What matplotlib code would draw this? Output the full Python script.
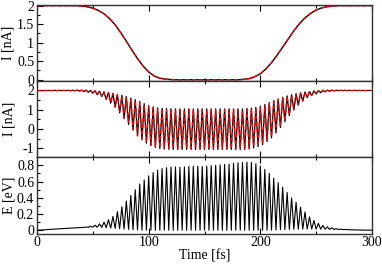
import numpy as np
import matplotlib
matplotlib.use("Agg")
import matplotlib.pyplot as plt
from matplotlib.ticker import MultipleLocator, FixedLocator

plt.rcParams['font.family'] = ['Liberation Serif', 'DejaVu Serif']
plt.rcParams['font.size'] = 10

# ---------------- data ----------------
# top panel: time-averaged current (every 5 fs, 0..300)
t_bar = np.arange(0, 301, 5)
Ibar_black = [2.00, 2.00, 2.00, 2.00, 2.00, 2.00, 2.00, 2.00, 1.99, 1.97,
              1.93, 1.87, 1.78, 1.65, 1.48, 1.27, 1.04, 0.80, 0.57, 0.37,
              0.21, 0.10, 0.04, 0.015, 0.005, 0.0, 0.0, 0.0, 0.0, 0.0,
              0.0, 0.0, 0.0, 0.0, 0.0, 0.0, 0.0, 0.01, 0.03, 0.08,
              0.16, 0.29, 0.46, 0.66, 0.88, 1.10, 1.32, 1.51, 1.67, 1.79,
              1.88, 1.94, 1.97, 1.99, 2.00, 2.00, 2.00, 2.00, 2.00, 2.00, 2.00]
Ibar_red = [2.00, 2.00, 2.00, 2.00, 2.00, 2.00, 2.00, 2.00, 1.99, 1.97,
            1.93, 1.87, 1.78, 1.65, 1.48, 1.27, 1.04, 0.80, 0.57, 0.37,
            0.21, 0.10, 0.04, 0.015, 0.005, 0.0, 0.0, 0.0, 0.0, 0.0,
            0.0, 0.0, 0.0, 0.0, 0.0, 0.0, 0.0, 0.01, 0.03, 0.08,
            0.16, 0.29, 0.46, 0.66, 0.88, 1.10, 1.32, 1.51, 1.67, 1.79,
            1.88, 1.94, 1.97, 1.99, 2.00, 2.00, 2.00, 2.00, 2.00, 2.00, 2.00]

# oscillating signals: extrema times (maxima at 0,4,8..., minima at 2,6,10...)
t_max = np.arange(0, 300, 4.0)
t_min = t_max + 2.0

# middle panel: current maxima / minima (black)
I_hi_black = [2.0, 2.0, 2.0, 2.0, 2.005, 2.005, 2.006, 2.008, 2.01, 2.02,
              2.02, 2.017, 2.006, 1.99, 1.967, 1.93, 1.906, 1.858, 1.806, 1.754,
              1.69, 1.608, 1.522, 1.43, 1.318, 1.23, 1.152, 1.104, 1.08, 1.063,
              1.055, 1.05, 1.05, 1.05, 1.05, 1.05, 1.05, 1.05, 1.05, 1.05,
              1.05, 1.05, 1.05, 1.05, 1.05, 1.05, 1.05, 1.07, 1.09, 1.125,
              1.19, 1.27, 1.37, 1.475, 1.565, 1.65, 1.72, 1.78, 1.83, 1.88,
              1.92, 1.95, 1.98, 2.0, 2.01, 2.02, 2.02, 2.015, 2.01, 2.008,
              2.006, 2.005, 2.003, 2.002, 2.001]
I_lo_black = [1.995, 1.995, 1.995, 1.995, 1.995, 1.994, 1.992, 1.99, 1.985, 1.971,
              1.945, 1.91, 1.86, 1.78, 1.686, 1.538, 1.346, 1.13, 0.842, 0.542,
              0.244, -0.054, -0.35, -0.55, -0.726, -0.859, -0.947, -1.005, -1.03, -1.041,
              -1.047, -1.05, -1.05, -1.05, -1.05, -1.05, -1.05, -1.05, -1.05, -1.05,
              -1.05, -1.05, -1.05, -1.05, -1.05, -1.05, -1.05, -1.02, -0.976, -0.908,
              -0.81, -0.642, -0.45, -0.198, 0.088, 0.39, 0.694, 0.986, 1.238, 1.446,
              1.63, 1.737, 1.821, 1.886, 1.927, 1.96, 1.98, 1.99, 1.992, 1.994,
              1.995, 1.995, 1.996, 1.997, 1.998]
# middle panel: current maxima / minima (red)
I_hi_red = [2.0, 2.0, 2.0, 2.0, 2.004, 2.004, 2.005, 2.007, 2.009, 2.018,
            2.018, 2.014, 2.003, 1.985, 1.96, 1.92, 1.89, 1.84, 1.78, 1.72,
            1.65, 1.56, 1.47, 1.38, 1.26, 1.17, 1.10, 1.05, 1.03, 1.01,
            1.0, 1.0, 1.0, 1.0, 1.0, 1.0, 1.0, 1.0, 1.0, 1.0,
            1.0, 1.0, 1.0, 1.0, 1.0, 1.0, 1.0, 1.02, 1.04, 1.075,
            1.14, 1.22, 1.32, 1.43, 1.52, 1.61, 1.69, 1.75, 1.81, 1.86,
            1.90, 1.94, 1.97, 1.99, 2.005, 2.015, 2.015, 2.012, 2.008, 2.006,
            2.005, 2.004, 2.003, 2.002, 2.001]
I_lo_red = [1.996, 1.996, 1.996, 1.996, 1.996, 1.995, 1.993, 1.991, 1.987, 1.974,
            1.95, 1.915, 1.87, 1.79, 1.70, 1.56, 1.38, 1.17, 0.89, 0.60,
            0.31, 0.01, -0.29, -0.49, -0.67, -0.80, -0.89, -0.95, -0.98, -0.99,
            -1.0, -1.0, -1.0, -1.0, -1.0, -1.0, -1.0, -1.0, -1.0, -1.0,
            -1.0, -1.0, -1.0, -1.0, -1.0, -1.0, -1.0, -0.97, -0.92, -0.85,
            -0.75, -0.58, -0.39, -0.14, 0.15, 0.44, 0.74, 1.02, 1.27, 1.47,
            1.65, 1.75, 1.83, 1.89, 1.93, 1.962, 1.981, 1.99, 1.992, 1.994,
            1.995, 1.995, 1.996, 1.997, 1.998]

# bottom panel: energy maxima / minima
E_hi = [0.000, 0.003, 0.007, 0.010, 0.014, 0.018, 0.021, 0.025, 0.028, 0.031,
        0.035, 0.040, 0.050, 0.062, 0.078, 0.100, 0.130, 0.170, 0.230, 0.290,
        0.360, 0.430, 0.500, 0.570, 0.620, 0.670, 0.710, 0.740, 0.760, 0.770,
        0.780, 0.780, 0.775, 0.780, 0.785, 0.790, 0.790, 0.785, 0.790, 0.795,
        0.800, 0.805, 0.810, 0.815, 0.825, 0.830, 0.835, 0.840, 0.835, 0.820,
        0.790, 0.750, 0.700, 0.640, 0.585, 0.530, 0.465, 0.400, 0.345, 0.285,
        0.225, 0.165, 0.120, 0.085, 0.060, 0.042, 0.030, 0.020, 0.014, 0.010,
        0.007, 0.005, 0.003, 0.002, 0.001]
E_lo = [0.001, 0.005, 0.009, 0.012, 0.016, 0.019, 0.023, 0.026, 0.029, 0.032,
        0.034, 0.036, 0.037, 0.037, 0.035, 0.032, 0.028, 0.024, 0.019, 0.014,
        0.010, 0.006, 0.003, 0.0, 0.0, 0.0, 0.0, 0.0, 0.0, 0.0,
        0.0, 0.0, 0.0, 0.0, 0.0, 0.0, 0.0, 0.0, 0.0, 0.0,
        0.0, 0.0, 0.0, 0.0, 0.0, 0.0, 0.0, 0.0, 0.0, 0.0,
        0.0, 0.0, 0.002, 0.004, 0.006, 0.008, 0.010, 0.012, 0.013, 0.014,
        0.015, 0.015, 0.014, 0.013, 0.012, 0.010, 0.009, 0.008, 0.007, 0.006,
        0.005, 0.004, 0.003, 0.002, 0.001]
t_end, I_end, E_end = 300.0, 2.0, 0.0

x_ticks = [0, 100, 200, 300]
x_labels = ['0', '100', '200', '300']


def interleave(hi, lo, end):
    t = np.empty(2 * len(t_max) + 1)
    v = np.empty_like(t)
    t[0:-1:2], t[1:-1:2], t[-1] = t_max, t_min, t_end
    v[0:-1:2], v[1:-1:2], v[-1] = hi, lo, end
    return t, v


# ---------------- figure ----------------
fig = plt.figure(figsize=(3.82, 2.66), dpi=100)
L, R = 37 / 382, 372 / 382
ytop, ybot = 4.5, 233.5
h = (ybot - ytop) / 3
axes = []
for i in range(3):
    y0 = 1 - (ytop + (i + 1) * h) / 266
    axes.append(fig.add_axes([L, y0, R - L, h / 266]))
ax1, ax2, ax3 = axes

red = '#ff0000'
ax1.plot(t_bar, Ibar_black, color='black', lw=1.0)
ax1.plot(t_bar, Ibar_red, color=red, lw=1.0, ls=(0, (3, 2)))

t, v = interleave(I_hi_black, I_lo_black, I_end)
ax2.plot(t, v, color='black', lw=0.9)
t, v = interleave(I_hi_red, I_lo_red, I_end)
ax2.plot(t, v, color=red, lw=0.9, ls=(0, (3, 2)))

t, v = interleave(E_hi, E_lo, E_end)
ax3.plot(t, v, color='black', lw=0.8)

ax1.set_ylim(-0.03, 2.03)
ax2.set_ylim(-1.45, 2.5)
ax3.set_ylim(-0.04, 0.9)

ax1.yaxis.set_major_locator(FixedLocator([0, 0.5, 1, 1.5, 2]))
ax1.set_yticklabels(['0', '0.5', '1', '1.5', '2'])
ax1.yaxis.set_minor_locator(MultipleLocator(0.25))
ax2.yaxis.set_major_locator(FixedLocator([-1, 0, 1, 2]))
ax2.set_yticklabels(['-1', '0', '1', '2'])
ax2.yaxis.set_minor_locator(MultipleLocator(0.5))
ax3.yaxis.set_major_locator(FixedLocator([0, 0.2, 0.4, 0.6, 0.8]))
ax3.set_yticklabels(['0', '0.2', '0.4', '0.6', '0.8'])
ax3.yaxis.set_minor_locator(MultipleLocator(0.1))

for ax in axes:
    ax.set_xlim(0, 300)
    ax.xaxis.set_major_locator(FixedLocator(x_ticks))
    ax.xaxis.set_minor_locator(FixedLocator([50, 150, 250]))
    ax.tick_params(which='both', direction='in', top=True, right=False,
                   labelsize=10, pad=2)
    ax.tick_params(which='major', length=4, width=0.8)
    ax.tick_params(which='minor', length=2.5, width=0.8)
    for s in ax.spines.values():
        s.set_linewidth(1.0)
        s.set_color('#333333')
for ax in (ax1, ax2):
    ax.tick_params(labelbottom=False)

ax3.set_xticklabels(x_labels)
ax3.set_xlabel('Time [fs]', labelpad=0)
ax1.set_ylabel('Ī [nA]')
ax2.set_ylabel('I [nA]')
ax3.set_ylabel('E [eV]')
for ax in axes:
    ax.yaxis.set_label_coords(-0.064, 0.5)

fig.savefig('out.png', dpi=100)
